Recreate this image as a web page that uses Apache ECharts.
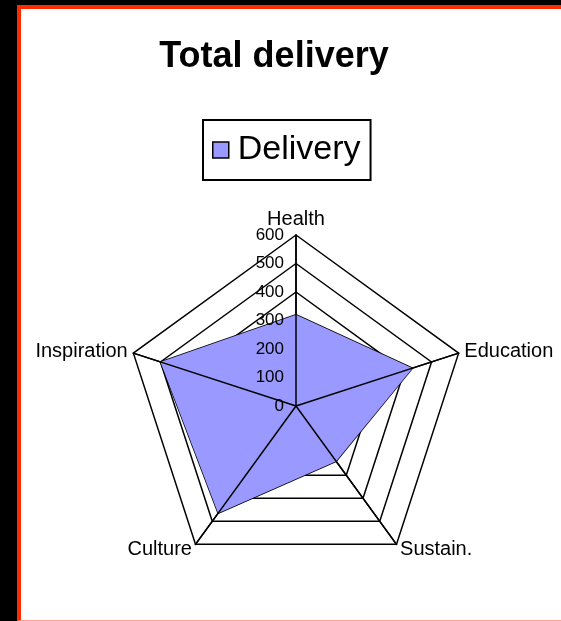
<!DOCTYPE html>
<html>
<head>
<meta charset="utf-8">
<script src="https://cdn.jsdelivr.net/npm/echarts@6/dist/echarts.min.js"></script>
<style>
  html, body { margin: 0; padding: 0; background: #000; }
  #frame {
    position: absolute; left: 17px; top: 5px; right: 0; bottom: 0;
    background: #fff;
    border-left: 4px solid #ff2a00;
    border-top: 4px solid #ff2a00;
    border-bottom: 1px solid #ffa08c;
  }
  #chart { position: absolute; left: 0; top: 0; width: 561px; height: 621px; }
</style>
</head>
<body>
<div id="frame"></div>
<div id="chart"></div>
<script>
// indicators in the order ECharts lays them out (counter-clockwise from the top)
var categories = ['Health', 'Inspiration', 'Culture', 'Sustain.', 'Education'];
var deliveryValues = [320, 500, 465, 240, 430];
var axisMax = 600;
var tickLabels = ['0', '100', '200', '300', '400', '500', '600'];

var chart = echarts.init(document.getElementById('chart'));

var font = '"Liberation Sans", Arial, sans-serif';
var black = { color: '#000', width: 1.5 };

function indicators(withLabels) {
  return categories.map(function (name, i) {
    var ind = { name: name, min: 0, max: axisMax };
    if (withLabels && i === 0) {
      // only the vertical axis carries the value labels
      ind.axisLabel = {
        show: true,
        color: '#000',
        fontFamily: font,
        fontSize: 17,
        margin: 12,
        formatter: function (v) { return tickLabels[Math.round(v / 100)] || ''; }
      };
    }
    return ind;
  });
}

var radarBase = {
  center: [296, 406],
  radius: 171,
  startAngle: 90,
  shape: 'polygon',
  splitNumber: 6,
  nameGap: 6,
  splitArea: { show: false },
  axisTick: { show: false },
  axisLabel: { show: false }
};

var option = {
  animation: false,
  title: {
    text: 'Total delivery',
    left: 274,
    textAlign: 'center',
    top: 39,
    padding: 0,
    textStyle: { fontFamily: font, fontSize: 36, fontWeight: 'bold', color: '#000' }
  },
  legend: {
    data: ['Delivery'],
    left: 203,
    top: 120,
    padding: [13, 10, 13, 9],
    borderColor: '#000',
    borderWidth: 2,
    icon: 'rect',
    itemWidth: 16,
    itemHeight: 16,
    itemStyle: { borderColor: '#000', borderWidth: 1.5 },
    textStyle: { fontFamily: font, fontSize: 34, color: '#000', padding: [0, 0, 0, 4] }
  },
  radar: [
    // grid rings, drawn below the filled area
    Object.assign({}, radarBase, {
      z: 0,
      axisName: { color: '#000', fontFamily: font, fontSize: 20 },
      splitLine: { lineStyle: black },
      axisLine: { lineStyle: black },
      indicator: indicators(false)
    }),
    // spokes and value labels, drawn over the filled area
    Object.assign({}, radarBase, {
      z: 5,
      axisName: { show: false },
      splitLine: { show: false },
      axisLine: { lineStyle: black },
      indicator: indicators(true)
    })
  ],
  series: [{
    name: 'Delivery',
    type: 'radar',
    radarIndex: 0,
    z: 2,
    symbol: 'none',
    itemStyle: { color: '#9999ff', borderColor: '#000' },
    lineStyle: black,
    areaStyle: { color: '#9999ff', opacity: 1 },
    data: [{ value: deliveryValues, name: 'Delivery' }]
  }]
};

chart.setOption(option);
</script>
</body>
</html>
